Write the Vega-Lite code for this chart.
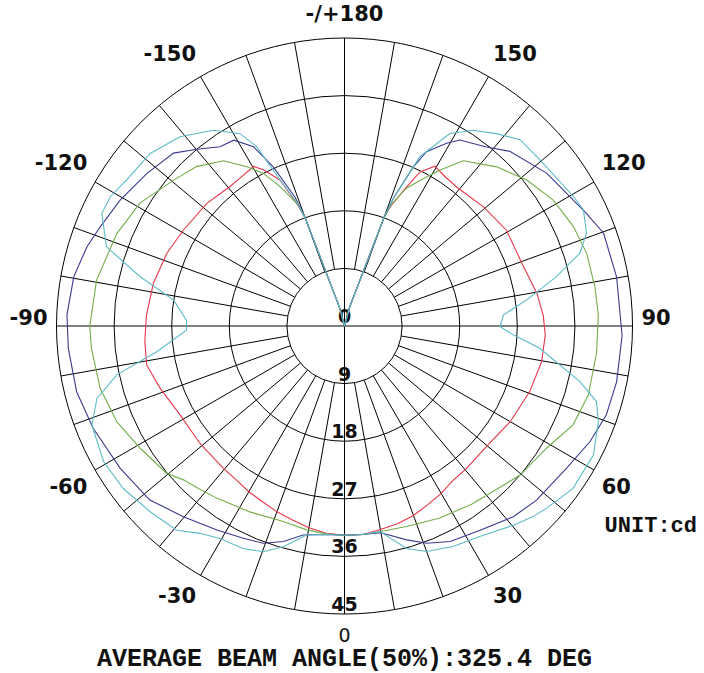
{
  "$schema": "https://vega.github.io/schema/vega-lite/v6.json",
  "width": 704,
  "height": 673,
  "padding": 0,
  "autosize": "none",
  "background": "white",
  "config": {"view": {"stroke": null}},
  "datasets": {
    "rings": [{"r": 18}, {"r": 27}, {"r": 36}, {"r": 45}],
    "inner": [{"r": 9}],
    "spokes": [{"a": -170}, {"a": -160}, {"a": -150}, {"a": -140}, {"a": -130}, {"a": -120}, {"a": -110}, {"a": -100}, {"a": -80}, {"a": -70}, {"a": -60}, {"a": -50}, {"a": -40}, {"a": -30}, {"a": -20}, {"a": -10}, {"a": 10}, {"a": 20}, {"a": 30}, {"a": 40}, {"a": 50}, {"a": 60}, {"a": 70}, {"a": 80}, {"a": 100}, {"a": 110}, {"a": 120}, {"a": 130}, {"a": 140}, {"a": 150}, {"a": 160}, {"a": 170}],
    "axes": [{"a": 0}, {"a": 90}],
    "angleLabels": [{"a": 180, "t": "-/+180"}, {"a": 150, "t": "150"}, {"a": 120, "t": "120"}, {"a": 90, "t": "90"}, {"a": 60, "t": "60"}, {"a": 30, "t": "30"}, {"a": 0, "t": "0"}, {"a": -30, "t": "-30"}, {"a": -60, "t": "-60"}, {"a": -90, "t": "-90"}, {"a": -120, "t": "-120"}, {"a": -150, "t": "-150"}],
    "ringLabels": [{"r": 0, "t": "0"}, {"r": 9, "t": "9"}, {"r": 18, "t": "18"}, {"r": 27, "t": "27"}, {"r": 36, "t": "36"}, {"r": 45, "t": "45"}],
    "curves": [
      {"s": "red", "a": -180, "r": 0}, {"s": "red", "a": -170, "r": 0}, {"s": "red", "a": -165, "r": 3}, {"s": "red", "a": -160, "r": 18}, {"s": "red", "a": -159, "r": 20}, {"s": "red", "a": -156.2, "r": 24.9}, {"s": "red", "a": -152.6, "r": 27.5}, {"s": "red", "a": -150.3, "r": 28.7}, {"s": "red", "a": -145, "r": 28.3}, {"s": "red", "a": -140.6, "r": 28.2}, {"s": "red", "a": -131.7, "r": 28.8}, {"s": "red", "a": -120.8, "r": 29.3}, {"s": "red", "a": -112.2, "r": 30}, {"s": "red", "a": -102.6, "r": 30.6}, {"s": "red", "a": -93, "r": 31}, {"s": "red", "a": -85.5, "r": 31.3}, {"s": "red", "a": -78.8, "r": 31.5}, {"s": "red", "a": -71.3, "r": 30.4}, {"s": "red", "a": -61.6, "r": 29.2}, {"s": "red", "a": -50.9, "r": 29.1}, {"s": "red", "a": -40.4, "r": 29.2}, {"s": "red", "a": -35, "r": 29.4}, {"s": "red", "a": -30, "r": 29.9}, {"s": "red", "a": -25, "r": 30.3}, {"s": "red", "a": -20, "r": 30.9}, {"s": "red", "a": -15, "r": 31.4}, {"s": "red", "a": -10, "r": 32}, {"s": "red", "a": -5, "r": 32.5}, {"s": "red", "a": 0, "r": 32.7}, {"s": "red", "a": 5, "r": 32.7}, {"s": "red", "a": 10, "r": 32.3}, {"s": "red", "a": 15, "r": 32}, {"s": "red", "a": 20, "r": 31.5}, {"s": "red", "a": 25, "r": 30.8}, {"s": "red", "a": 30, "r": 30.2}, {"s": "red", "a": 35, "r": 29.5}, {"s": "red", "a": 40.7, "r": 29.3}, {"s": "red", "a": 49.6, "r": 29.1}, {"s": "red", "a": 60, "r": 29.9}, {"s": "red", "a": 70.5, "r": 30.7}, {"s": "red", "a": 79.7, "r": 31.3}, {"s": "red", "a": 87.4, "r": 31.4}, {"s": "red", "a": 93, "r": 31.1}, {"s": "red", "a": 99.6, "r": 30.5}, {"s": "red", "a": 109.5, "r": 29.4}, {"s": "red", "a": 120.6, "r": 29.4}, {"s": "red", "a": 130.6, "r": 28.6}, {"s": "red", "a": 141, "r": 27.9}, {"s": "red", "a": 146.8, "r": 28.2}, {"s": "red", "a": 150.5, "r": 28.7}, {"s": "red", "a": 153.9, "r": 26.8}, {"s": "red", "a": 155.9, "r": 23.8}, {"s": "red", "a": 159, "r": 20}, {"s": "red", "a": 160, "r": 18}, {"s": "red", "a": 165, "r": 3}, {"s": "red", "a": 170, "r": 0}, {"s": "red", "a": 180, "r": 0},
      {"s": "green", "a": -180, "r": 0}, {"s": "green", "a": -170, "r": 0}, {"s": "green", "a": -165, "r": 3}, {"s": "green", "a": -160, "r": 18}, {"s": "green", "a": -159, "r": 20.3}, {"s": "green", "a": -155.2, "r": 24}, {"s": "green", "a": -152, "r": 27}, {"s": "green", "a": -148.5, "r": 29.2}, {"s": "green", "a": -143.8, "r": 32}, {"s": "green", "a": -137.1, "r": 34}, {"s": "green", "a": -130.5, "r": 35.1}, {"s": "green", "a": -121, "r": 37.3}, {"s": "green", "a": -112.1, "r": 38.4}, {"s": "green", "a": -100.5, "r": 39.4}, {"s": "green", "a": -90, "r": 39.8}, {"s": "green", "a": -85, "r": 39.7}, {"s": "green", "a": -75.7, "r": 39.4}, {"s": "green", "a": -67.2, "r": 38.6}, {"s": "green", "a": -59.1, "r": 37.2}, {"s": "green", "a": -50.4, "r": 36.1}, {"s": "green", "a": -46.3, "r": 34.8}, {"s": "green", "a": -41.7, "r": 34.1}, {"s": "green", "a": -36.6, "r": 33.5}, {"s": "green", "a": -27, "r": 32.6}, {"s": "green", "a": -17.4, "r": 32}, {"s": "green", "a": -10.5, "r": 32.4}, {"s": "green", "a": -5, "r": 32.6}, {"s": "green", "a": 0, "r": 32.7}, {"s": "green", "a": 5, "r": 32.7}, {"s": "green", "a": 10, "r": 32.6}, {"s": "green", "a": 17.2, "r": 32.8}, {"s": "green", "a": 26.4, "r": 33.5}, {"s": "green", "a": 35.5, "r": 34.2}, {"s": "green", "a": 45.9, "r": 35.3}, {"s": "green", "a": 49.7, "r": 36}, {"s": "green", "a": 58.9, "r": 36.9}, {"s": "green", "a": 66.6, "r": 38.9}, {"s": "green", "a": 74.2, "r": 39.6}, {"s": "green", "a": 84, "r": 39.6}, {"s": "green", "a": 92.5, "r": 39.7}, {"s": "green", "a": 98.9, "r": 39.6}, {"s": "green", "a": 106.7, "r": 39.5}, {"s": "green", "a": 113.4, "r": 39}, {"s": "green", "a": 121, "r": 38.1}, {"s": "green", "a": 128.7, "r": 36.5}, {"s": "green", "a": 136.3, "r": 34.4}, {"s": "green", "a": 144.3, "r": 31.8}, {"s": "green", "a": 148.5, "r": 28.6}, {"s": "green", "a": 152, "r": 26}, {"s": "green", "a": 155.8, "r": 23.6}, {"s": "green", "a": 159, "r": 20.3}, {"s": "green", "a": 160, "r": 18}, {"s": "green", "a": 165, "r": 3}, {"s": "green", "a": 170, "r": 0}, {"s": "green", "a": 180, "r": 0},
      {"s": "blue", "a": -180, "r": 0}, {"s": "blue", "a": -170, "r": 0}, {"s": "blue", "a": -165, "r": 3}, {"s": "blue", "a": -160, "r": 18}, {"s": "blue", "a": -159, "r": 21.5}, {"s": "blue", "a": -155.9, "r": 27.2}, {"s": "blue", "a": -153.1, "r": 31.4}, {"s": "blue", "a": -149.2, "r": 33.8}, {"s": "blue", "a": -145.2, "r": 34.1}, {"s": "blue", "a": -140.1, "r": 36}, {"s": "blue", "a": -135.3, "r": 38}, {"s": "blue", "a": -127.7, "r": 39}, {"s": "blue", "a": -119.3, "r": 40.2}, {"s": "blue", "a": -112.1, "r": 41.2}, {"s": "blue", "a": -107.1, "r": 42.1}, {"s": "blue", "a": -100.3, "r": 43}, {"s": "blue", "a": -92.3, "r": 43.4}, {"s": "blue", "a": -85.4, "r": 43.3}, {"s": "blue", "a": -76.2, "r": 43.1}, {"s": "blue", "a": -67.8, "r": 42.4}, {"s": "blue", "a": -57.6, "r": 41.5}, {"s": "blue", "a": -48.2, "r": 40.8}, {"s": "blue", "a": -40.2, "r": 39}, {"s": "blue", "a": -32, "r": 37.6}, {"s": "blue", "a": -25.5, "r": 36.75}, {"s": "blue", "a": -20.5, "r": 36.25}, {"s": "blue", "a": -15.8, "r": 35}, {"s": "blue", "a": -11.2, "r": 33.3}, {"s": "blue", "a": -5, "r": 32.7}, {"s": "blue", "a": 0, "r": 32.7}, {"s": "blue", "a": 5, "r": 32.7}, {"s": "blue", "a": 10, "r": 32.8}, {"s": "blue", "a": 16.2, "r": 34.8}, {"s": "blue", "a": 20.7, "r": 36.3}, {"s": "blue", "a": 26.1, "r": 37.5}, {"s": "blue", "a": 33.6, "r": 38.3}, {"s": "blue", "a": 41.5, "r": 39.8}, {"s": "blue", "a": 47.8, "r": 40.5}, {"s": "blue", "a": 57.4, "r": 41.2}, {"s": "blue", "a": 64.8, "r": 42.4}, {"s": "blue", "a": 71.2, "r": 43.2}, {"s": "blue", "a": 78.4, "r": 43.4}, {"s": "blue", "a": 88, "r": 43.4}, {"s": "blue", "a": 100.2, "r": 43.2}, {"s": "blue", "a": 109.7, "r": 43}, {"s": "blue", "a": 114.9, "r": 41.7}, {"s": "blue", "a": 120.9, "r": 40.4}, {"s": "blue", "a": 127.1, "r": 39.6}, {"s": "blue", "a": 136.5, "r": 37.6}, {"s": "blue", "a": 141.6, "r": 35.7}, {"s": "blue", "a": 148.2, "r": 34.2}, {"s": "blue", "a": 150.8, "r": 32.7}, {"s": "blue", "a": 154.8, "r": 30.1}, {"s": "blue", "a": 156.6, "r": 27.1}, {"s": "blue", "a": 159, "r": 21.5}, {"s": "blue", "a": 160, "r": 18}, {"s": "blue", "a": 165, "r": 3}, {"s": "blue", "a": 170, "r": 0}, {"s": "blue", "a": 180, "r": 0},
      {"s": "cyan", "a": -180, "r": 0}, {"s": "cyan", "a": -170, "r": 0}, {"s": "cyan", "a": -165, "r": 3}, {"s": "cyan", "a": -160, "r": 18}, {"s": "cyan", "a": -159, "r": 20.5}, {"s": "cyan", "a": -156.2, "r": 24.9}, {"s": "cyan", "a": -153.9, "r": 31.2}, {"s": "cyan", "a": -151.5, "r": 34.2}, {"s": "cyan", "a": -146.2, "r": 36.8}, {"s": "cyan", "a": -139, "r": 39.2}, {"s": "cyan", "a": -131.6, "r": 40.6}, {"s": "cyan", "a": -123.8, "r": 41}, {"s": "cyan", "a": -118.9, "r": 41.8}, {"s": "cyan", "a": -114.9, "r": 41.8}, {"s": "cyan", "a": -108.4, "r": 39.2}, {"s": "cyan", "a": -103.6, "r": 32.9}, {"s": "cyan", "a": -98.6, "r": 27}, {"s": "cyan", "a": -92, "r": 24.7}, {"s": "cyan", "a": -88.5, "r": 24.7}, {"s": "cyan", "a": -82.2, "r": 29.6}, {"s": "cyan", "a": -77.9, "r": 36.4}, {"s": "cyan", "a": -73.7, "r": 40.3}, {"s": "cyan", "a": -68.6, "r": 42.4}, {"s": "cyan", "a": -60.6, "r": 43.2}, {"s": "cyan", "a": -53.7, "r": 42.9}, {"s": "cyan", "a": -46.3, "r": 42}, {"s": "cyan", "a": -39.4, "r": 41.3}, {"s": "cyan", "a": -34.9, "r": 39.5}, {"s": "cyan", "a": -30.4, "r": 38.5}, {"s": "cyan", "a": -24.5, "r": 38.2}, {"s": "cyan", "a": -19.8, "r": 37.5}, {"s": "cyan", "a": -15.5, "r": 35.8}, {"s": "cyan", "a": -10.3, "r": 33.2}, {"s": "cyan", "a": -5, "r": 32.7}, {"s": "cyan", "a": 0, "r": 32.7}, {"s": "cyan", "a": 5, "r": 32.7}, {"s": "cyan", "a": 9.8, "r": 32.6}, {"s": "cyan", "a": 15.6, "r": 36.1}, {"s": "cyan", "a": 20, "r": 37.5}, {"s": "cyan", "a": 26.2, "r": 38.4}, {"s": "cyan", "a": 32.7, "r": 39.1}, {"s": "cyan", "a": 40.3, "r": 40.8}, {"s": "cyan", "a": 44.7, "r": 41.9}, {"s": "cyan", "a": 47.9, "r": 42.5}, {"s": "cyan", "a": 54.6, "r": 43.8}, {"s": "cyan", "a": 62.6, "r": 43.8}, {"s": "cyan", "a": 69.3, "r": 42.4}, {"s": "cyan", "a": 73.3, "r": 41.1}, {"s": "cyan", "a": 76.7, "r": 37.8}, {"s": "cyan", "a": 83.5, "r": 30.7}, {"s": "cyan", "a": 87, "r": 26.4}, {"s": "cyan", "a": 89.7, "r": 24.3}, {"s": "cyan", "a": 94, "r": 24.9}, {"s": "cyan", "a": 98.1, "r": 28.7}, {"s": "cyan", "a": 103.1, "r": 34}, {"s": "cyan", "a": 107.2, "r": 38.5}, {"s": "cyan", "a": 111, "r": 40.5}, {"s": "cyan", "a": 115.9, "r": 41.5}, {"s": "cyan", "a": 119.5, "r": 41.1}, {"s": "cyan", "a": 130.3, "r": 40.1}, {"s": "cyan", "a": 136.7, "r": 40}, {"s": "cyan", "a": 141.7, "r": 38.3}, {"s": "cyan", "a": 146.7, "r": 36.6}, {"s": "cyan", "a": 151.3, "r": 34.3}, {"s": "cyan", "a": 156, "r": 29}, {"s": "cyan", "a": 159, "r": 21.5}, {"s": "cyan", "a": 160, "r": 18}, {"s": "cyan", "a": 165, "r": 3}, {"s": "cyan", "a": 170, "r": 0}, {"s": "cyan", "a": 180, "r": 0}
    ]
  },
  "layer": [
    {
      "data": {"name": "rings"},
      "mark": {"type": "arc", "filled": false, "stroke": "black", "strokeWidth": 1, "theta": 0, "theta2": 6.3},
      "encoding": {
        "x": {"datum": 0, "type": "quantitative", "scale": {"domain": [-53.83, 56.17], "nice": false, "zero": false}, "axis": null},
        "y": {"datum": 0, "type": "quantitative", "scale": {"domain": [-54.22, 50.94], "nice": false, "zero": false}, "axis": null},
        "radius": {"field": "r", "type": "quantitative", "stack": null, "scale": {"type": "linear", "domain": [0, 45], "range": [0, 288], "zero": true}, "legend": null}
      }
    },
    {
      "data": {"name": "spokes"},
      "transform": [
        {"calculate": "9*sin(datum.a*PI/180)", "as": "x"},
        {"calculate": "-9*cos(datum.a*PI/180)", "as": "y"},
        {"calculate": "45*sin(datum.a*PI/180)", "as": "x2"},
        {"calculate": "-45*cos(datum.a*PI/180)", "as": "y2"}
      ],
      "mark": {"type": "rule", "stroke": "black", "strokeWidth": 1},
      "encoding": {
        "x": {"field": "x", "type": "quantitative", "scale": {"domain": [-53.83, 56.17], "nice": false, "zero": false}, "axis": null},
        "y": {"field": "y", "type": "quantitative", "scale": {"domain": [-54.22, 50.94], "nice": false, "zero": false}, "axis": null},
        "x2": {"field": "x2"},
        "y2": {"field": "y2"}
      }
    },
    {
      "data": {"name": "inner"},
      "mark": {"type": "arc", "fill": "white", "stroke": "black", "strokeWidth": 1, "theta": 0, "theta2": 6.3},
      "encoding": {
        "x": {"datum": 0, "type": "quantitative", "scale": {"domain": [-53.83, 56.17], "nice": false, "zero": false}, "axis": null},
        "y": {"datum": 0, "type": "quantitative", "scale": {"domain": [-54.22, 50.94], "nice": false, "zero": false}, "axis": null},
        "radius": {"field": "r", "type": "quantitative", "stack": null, "scale": {"type": "linear", "domain": [0, 45], "range": [0, 288], "zero": true}, "legend": null}
      }
    },
    {
      "data": {"name": "axes"},
      "transform": [
        {"calculate": "-45*sin(datum.a*PI/180)", "as": "x"},
        {"calculate": "45*cos(datum.a*PI/180)", "as": "y"},
        {"calculate": "45*sin(datum.a*PI/180)", "as": "x2"},
        {"calculate": "-45*cos(datum.a*PI/180)", "as": "y2"}
      ],
      "mark": {"type": "rule", "stroke": "black", "strokeWidth": 1},
      "encoding": {
        "x": {"field": "x", "type": "quantitative", "scale": {"domain": [-53.83, 56.17], "nice": false, "zero": false}, "axis": null},
        "y": {"field": "y", "type": "quantitative", "scale": {"domain": [-54.22, 50.94], "nice": false, "zero": false}, "axis": null},
        "x2": {"field": "x2"},
        "y2": {"field": "y2"}
      }
    },
    {
      "data": {"name": "ringLabels"},
      "transform": [{"calculate": "-datum.r", "as": "y"}],
      "mark": {"type": "text", "font": "DejaVu Sans", "fontWeight": "bold", "fontSize": 19, "align": "center", "baseline": "middle", "dy": -9, "color": "#111111"},
      "encoding": {
        "x": {"datum": 0, "type": "quantitative", "scale": {"domain": [-53.83, 56.17], "nice": false, "zero": false}, "axis": null},
        "y": {"field": "y", "type": "quantitative", "scale": {"domain": [-54.22, 50.94], "nice": false, "zero": false}, "axis": null},
        "text": {"field": "t"}
      }
    },
    {
      "data": {"name": "curves"},
      "transform": [
        {"calculate": "datum.r*sin(datum.a*PI/180)", "as": "x"},
        {"calculate": "-datum.r*cos(datum.a*PI/180)", "as": "y"}
      ],
      "mark": {"type": "line", "strokeWidth": 1.1},
      "encoding": {
        "x": {"field": "x", "type": "quantitative", "scale": {"domain": [-53.83, 56.17], "nice": false, "zero": false}, "axis": null},
        "y": {"field": "y", "type": "quantitative", "scale": {"domain": [-54.22, 50.94], "nice": false, "zero": false}, "axis": null},
        "color": {"field": "s", "type": "nominal", "scale": {"domain": ["red", "green", "blue", "cyan"], "range": ["#e8364a", "#74ad4a", "#3a3a8e", "#5cbcc6"]}, "legend": null},
        "order": {"field": "a", "type": "quantitative"}
      }
    },
    {
      "data": {"name": "angleLabels"},
      "transform": [
        {"filter": "datum.a > 90 && datum.a < 180"},
        {"calculate": "46.4*sin(datum.a*PI/180)", "as": "x"},
        {"calculate": "-46.4*cos(datum.a*PI/180)", "as": "y"}
      ],
      "mark": {"type": "text", "font": "DejaVu Sans", "fontWeight": "bold", "fontSize": 21, "align": "left", "baseline": "middle", "dy": -14, "color": "#111111"},
      "encoding": {
        "x": {"field": "x", "type": "quantitative", "scale": {"domain": [-53.83, 56.17], "nice": false, "zero": false}, "axis": null},
        "y": {"field": "y", "type": "quantitative", "scale": {"domain": [-54.22, 50.94], "nice": false, "zero": false}, "axis": null},
        "text": {"field": "t"}
      }
    },
    {
      "data": {"name": "angleLabels"},
      "transform": [
        {"filter": "datum.a < -90"},
        {"calculate": "46.4*sin(datum.a*PI/180)", "as": "x"},
        {"calculate": "-46.4*cos(datum.a*PI/180)", "as": "y"}
      ],
      "mark": {"type": "text", "font": "DejaVu Sans", "fontWeight": "bold", "fontSize": 21, "align": "right", "baseline": "middle", "dy": -14, "color": "#111111"},
      "encoding": {
        "x": {"field": "x", "type": "quantitative", "scale": {"domain": [-53.83, 56.17], "nice": false, "zero": false}, "axis": null},
        "y": {"field": "y", "type": "quantitative", "scale": {"domain": [-54.22, 50.94], "nice": false, "zero": false}, "axis": null},
        "text": {"field": "t"}
      }
    },
    {
      "data": {"name": "angleLabels"},
      "transform": [
        {"filter": "datum.a == 90"},
        {"calculate": "46.4*sin(datum.a*PI/180)", "as": "x"},
        {"calculate": "-46.4*cos(datum.a*PI/180)", "as": "y"}
      ],
      "mark": {"type": "text", "font": "DejaVu Sans", "fontWeight": "bold", "fontSize": 21, "align": "left", "baseline": "middle", "dy": -7, "color": "#111111"},
      "encoding": {
        "x": {"field": "x", "type": "quantitative", "scale": {"domain": [-53.83, 56.17], "nice": false, "zero": false}, "axis": null},
        "y": {"field": "y", "type": "quantitative", "scale": {"domain": [-54.22, 50.94], "nice": false, "zero": false}, "axis": null},
        "text": {"field": "t"}
      }
    },
    {
      "data": {"name": "angleLabels"},
      "transform": [
        {"filter": "datum.a == -90"},
        {"calculate": "46.4*sin(datum.a*PI/180)", "as": "x"},
        {"calculate": "-46.4*cos(datum.a*PI/180)", "as": "y"}
      ],
      "mark": {"type": "text", "font": "DejaVu Sans", "fontWeight": "bold", "fontSize": 21, "align": "right", "baseline": "middle", "dy": -7, "color": "#111111"},
      "encoding": {
        "x": {"field": "x", "type": "quantitative", "scale": {"domain": [-53.83, 56.17], "nice": false, "zero": false}, "axis": null},
        "y": {"field": "y", "type": "quantitative", "scale": {"domain": [-54.22, 50.94], "nice": false, "zero": false}, "axis": null},
        "text": {"field": "t"}
      }
    },
    {
      "data": {"name": "angleLabels"},
      "transform": [
        {"filter": "datum.a > 0 && datum.a < 90"},
        {"calculate": "46.4*sin(datum.a*PI/180)", "as": "x"},
        {"calculate": "-46.4*cos(datum.a*PI/180)", "as": "y"}
      ],
      "mark": {"type": "text", "font": "DejaVu Sans", "fontWeight": "bold", "fontSize": 21, "align": "left", "baseline": "middle", "dy": 13.5, "color": "#111111"},
      "encoding": {
        "x": {"field": "x", "type": "quantitative", "scale": {"domain": [-53.83, 56.17], "nice": false, "zero": false}, "axis": null},
        "y": {"field": "y", "type": "quantitative", "scale": {"domain": [-54.22, 50.94], "nice": false, "zero": false}, "axis": null},
        "text": {"field": "t"}
      }
    },
    {
      "data": {"name": "angleLabels"},
      "transform": [
        {"filter": "datum.a < 0 && datum.a > -90"},
        {"calculate": "46.4*sin(datum.a*PI/180)", "as": "x"},
        {"calculate": "-46.4*cos(datum.a*PI/180)", "as": "y"}
      ],
      "mark": {"type": "text", "font": "DejaVu Sans", "fontWeight": "bold", "fontSize": 21, "align": "right", "baseline": "middle", "dy": 13.5, "color": "#111111"},
      "encoding": {
        "x": {"field": "x", "type": "quantitative", "scale": {"domain": [-53.83, 56.17], "nice": false, "zero": false}, "axis": null},
        "y": {"field": "y", "type": "quantitative", "scale": {"domain": [-54.22, 50.94], "nice": false, "zero": false}, "axis": null},
        "text": {"field": "t"}
      }
    },
    {
      "data": {"name": "angleLabels"},
      "transform": [
        {"filter": "datum.a == 180"},
        {"calculate": "46.4*sin(datum.a*PI/180)", "as": "x"},
        {"calculate": "-46.4*cos(datum.a*PI/180)", "as": "y"}
      ],
      "mark": {"type": "text", "font": "DejaVu Sans", "fontWeight": "bold", "fontSize": 21, "align": "center", "baseline": "middle", "dy": -14, "color": "#111111"},
      "encoding": {
        "x": {"field": "x", "type": "quantitative", "scale": {"domain": [-53.83, 56.17], "nice": false, "zero": false}, "axis": null},
        "y": {"field": "y", "type": "quantitative", "scale": {"domain": [-54.22, 50.94], "nice": false, "zero": false}, "axis": null},
        "text": {"field": "t"}
      }
    },
    {
      "data": {"name": "angleLabels"},
      "transform": [
        {"filter": "datum.a == 0"},
        {"calculate": "46.4*sin(datum.a*PI/180)", "as": "x"},
        {"calculate": "-46.4*cos(datum.a*PI/180)", "as": "y"}
      ],
      "mark": {"type": "text", "font": "DejaVu Sans", "fontWeight": "normal", "fontSize": 19, "align": "center", "baseline": "middle", "dy": 13, "color": "#111111"},
      "encoding": {
        "x": {"field": "x", "type": "quantitative", "scale": {"domain": [-53.83, 56.17], "nice": false, "zero": false}, "axis": null},
        "y": {"field": "y", "type": "quantitative", "scale": {"domain": [-54.22, 50.94], "nice": false, "zero": false}, "axis": null},
        "text": {"field": "t"}
      }
    },
    {
      "data": {"values": [{"t": "UNIT:cd"}]},
      "mark": {"type": "text", "font": "Liberation Mono", "fontWeight": "bold", "fontSize": 22, "align": "center", "baseline": "middle", "color": "#111111"},
      "encoding": {
        "x": {"datum": 47.86, "type": "quantitative", "scale": {"domain": [-53.83, 56.17], "nice": false, "zero": false}, "axis": null},
        "y": {"datum": -31.17, "type": "quantitative", "scale": {"domain": [-54.22, 50.94], "nice": false, "zero": false}, "axis": null},
        "text": {"field": "t"}
      }
    },
    {
      "data": {"values": [{"t": "AVERAGE BEAM ANGLE(50%):325.4 DEG"}]},
      "mark": {"type": "text", "font": "Liberation Mono", "fontWeight": "bold", "fontSize": 25, "align": "center", "baseline": "middle", "color": "#111111"},
      "encoding": {
        "x": {"datum": 0, "type": "quantitative", "scale": {"domain": [-53.83, 56.17], "nice": false, "zero": false}, "axis": null},
        "y": {"datum": -51.9, "type": "quantitative", "scale": {"domain": [-54.22, 50.94], "nice": false, "zero": false}, "axis": null},
        "text": {"field": "t"}
      }
    }
  ]
}
